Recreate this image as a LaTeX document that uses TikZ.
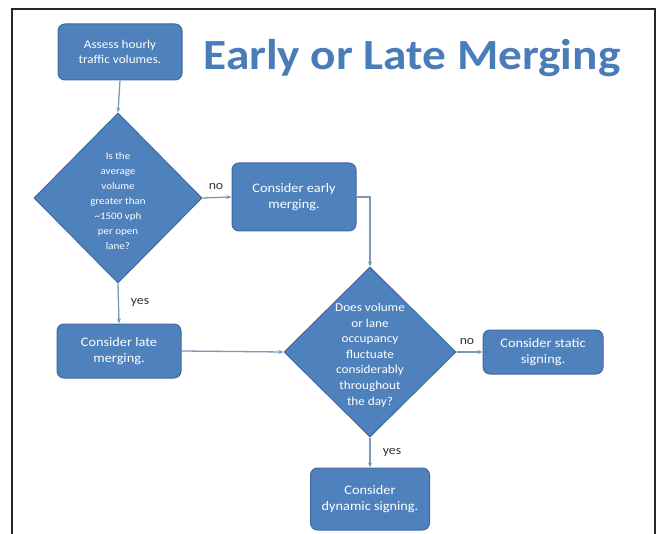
\documentclass[tikz,border=0pt]{standalone}
\usepackage{fontspec}
\setmainfont{Carlito}
\newfontfamily\widefont[FakeStretch=1.1]{Carlito}
\usetikzlibrary{shapes.geometric,arrows.meta}
\definecolor{boxfill}{RGB}{79,129,189}
\definecolor{boxline}{RGB}{65,105,160}
\definecolor{conn}{RGB}{125,150,188}
\definecolor{titleblue}{RGB}{74,124,186}
\definecolor{lbl}{RGB}{50,50,50}
\tikzset{
  stepbox/.style={draw=boxline, line width=1pt, fill=boxfill, rounded corners=7pt, text=white, align=center, font=\widefont\fontsize{13}{16}\selectfont, inner sep=0pt},
  decide/.style={draw=boxline, line width=1pt, fill=boxfill, shape=diamond, inner sep=0pt},
  dtext/.style={text=white, align=center, font=\widefont\fontsize{10}{15}\selectfont},
  conn/.style={draw=conn, line width=1.3pt, -{Stealth[length=5pt,width=4pt]}},
  lab/.style={text=lbl, font=\widefont\fontsize{12.5}{14}\selectfont},
}
\begin{document}
\begin{tikzpicture}[x=1pt,y=-1pt]
\useasboundingbox (0,0) rectangle (660,534);
\fill[white] (0,0) rectangle (660,534);
% frame
\draw[line width=1.4pt, black!85] (12,534) -- (12,9) -- (655,9) -- (655,534);
% title
\node[text=titleblue, font=\widefont\fontsize{43}{48}\selectfont\bfseries] (title) at (412,58) {Early or Late Merging};
% nodes
\node[stepbox, minimum width=124pt, minimum height=56pt, font=\widefont\fontsize{12}{15}\selectfont] (b1) at (120,52) {Assess hourly\\traffic volumes.};
\node[decide, minimum width=168pt, minimum height=170pt] (d1) at (118,198) {};
\node[dtext] (d1t) at (118,201) {Is the\\average\\volume\\greater than\\\textasciitilde1500 vph\\per open\\lane?};
\node[stepbox, minimum width=124pt, minimum height=68pt] (b2) at (294,197) {Consider early\\merging.};
\node[decide, minimum width=172pt, minimum height=170pt] (d2) at (370,352) {};
\node[dtext, font=\widefont\fontsize{12}{15.6}\selectfont] (d2t) at (370,355) {Does volume\\or lane\\occupancy\\fluctuate\\considerably\\throughout\\the day?};
\node[stepbox, minimum width=124pt, minimum height=54pt] (b3) at (119,351) {Consider late\\merging.};
\node[stepbox, minimum width=120pt, minimum height=44pt] (b4) at (543,352) {Consider static\\signing.};
\node[stepbox, minimum width=119pt, minimum height=62pt] (b5) at (370,499) {Consider\\dynamic signing.};
% connectors
\draw[conn] (b1.south) -- (d1.north);
\draw[conn] (d1.east) -- (b2.west);
\draw[conn] (d1.south) -- (b3.north);
\coordinate (c1) at (d2.north |- b2.east);
\draw[conn] (b2.east) -- (c1) -- (d2.north);
\draw[conn] (b3.east) -- (d2.west);
\draw[conn] (d2.east) -- (b4.west);
\draw[conn] (d2.south) -- (b5.north);
% labels
\node[lab] (l1) at (216,187) {no};
\node[lab] (l2) at (140,302) {yes};
\node[lab] (l3) at (467,342) {no};
\node[lab] (l4) at (392,452) {yes};
\end{tikzpicture}
\end{document}
